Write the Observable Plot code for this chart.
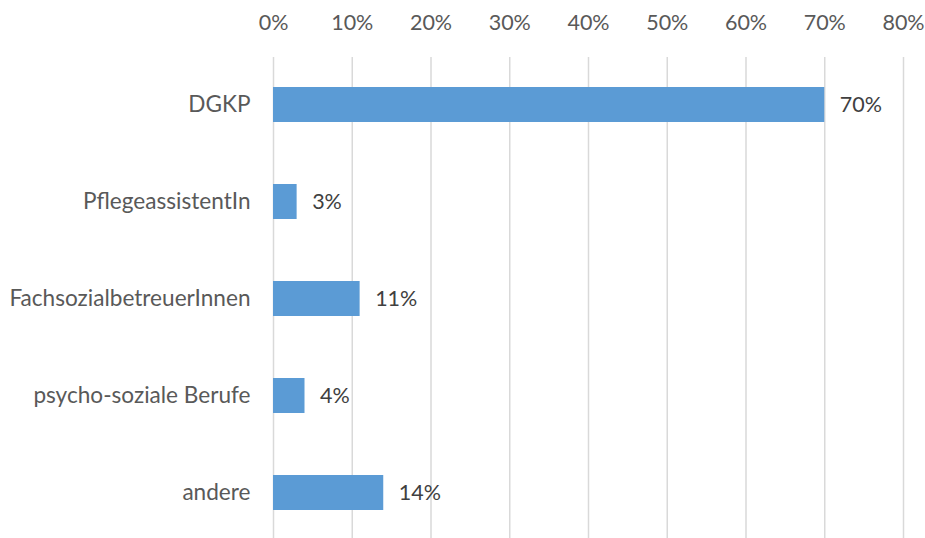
<!DOCTYPE html>
<html>
<head>
<meta charset="utf-8">
<script src="https://cdn.jsdelivr.net/npm/d3@7"></script>
<script src="https://cdn.jsdelivr.net/npm/@observablehq/plot@0.6"></script>
<style>
  html, body { margin: 0; padding: 0; background: #fff; }
  #chart svg { display: block; }
</style>
</head>
<body>
<div id="chart"></div>
<script>
const categories = ["DGKP", "PflegeassistentIn", "FachsozialbetreuerInnen", "psycho-soziale Berufe", "andere"];
const values = [70, 3, 11, 4, 14];
const xTicks = [0, 10, 20, 30, 40, 50, 60, 70, 80];

const data = categories.map((c, i) => ({category: c, value: values[i]}));

const chart = Plot.plot({
  width: 925,
  height: 538,
  marginLeft: 273,
  marginRight: 22,
  marginTop: 57,
  marginBottom: 0,
  style: {fontFamily: "Lato, 'Open Sans', sans-serif", fontSize: "22px", background: "#fff"},
  x: {domain: [0, 80], ticks: xTicks, axis: null},
  y: {domain: categories, range: [56, 541], paddingInner: 0.64, paddingOuter: 0.32, axis: null},
  marks: [
    Plot.gridX(xTicks, {stroke: "#d9d9d9", strokeOpacity: 1, strokeWidth: 1.5}),
    Plot.axisX(xTicks, {anchor: "top", tickSize: 0, tickPadding: 28, tickFormat: d => d + "%", fill: "#595959", fontSize: 21.5, label: null}),
    Plot.axisY({anchor: "left", tickSize: 0, tickPadding: 23, fill: "#595959", fontSize: 22.6, label: null}),
    Plot.barX(data, {x: "value", y: "category", fill: "#5b9bd5"}),
    Plot.text(data, {x: "value", y: "category", text: d => d.value + "%", textAnchor: "start", dx: 15, fill: "#404040", fontSize: 21.5})
  ]
});
document.getElementById("chart").appendChild(chart);
</script>
</body>
</html>
